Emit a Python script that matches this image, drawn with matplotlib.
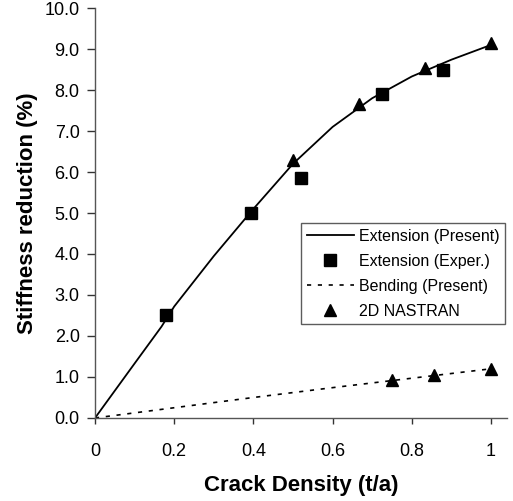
import matplotlib
matplotlib.use("Agg")
import matplotlib.pyplot as plt
from matplotlib.ticker import FixedLocator, FuncFormatter

plt.rcParams['font.family'] = ['Liberation Sans', 'DejaVu Sans']

# Extension, present model (curve)
ext_x = [0.0, 0.1, 0.168, 0.2, 0.3, 0.4, 0.5, 0.6, 0.7, 0.8, 0.9, 1.0]
ext_y = [0.0, 1.33, 2.23, 2.72, 3.95, 5.1, 6.2, 7.1, 7.8, 8.33, 8.74, 9.1]

# Extension, experimental
exp_x = [0.18, 0.395, 0.52, 0.725, 0.88]
exp_y = [2.5, 5.0, 5.85, 7.9, 8.5]

# Bending, present model (curve)
bend_x = [0.0, 0.2, 0.4, 0.6, 0.8, 1.0]
bend_y = [0.0, 0.25, 0.5, 0.74, 0.97, 1.2]

# 2D NASTRAN results
nas_x = [0.5, 0.667, 0.833, 1.0, 0.75, 0.857, 1.0]
nas_y = [6.3, 7.67, 8.53, 9.15, 0.92, 1.05, 1.2]

x_ticks = [0, 0.2, 0.4, 0.6, 0.8, 1.0]
y_ticks = [0, 1, 2, 3, 4, 5, 6, 7, 8, 9, 10]

fig = plt.figure(figsize=(5.13, 5.01), dpi=100)
ax = fig.add_axes([0.1852, 0.1657, 0.8028, 0.8183])

ax.plot(ext_x, ext_y, color='black', lw=1.3, label='Extension (Present)')
ax.plot(exp_x, exp_y, ls='none', marker='s', ms=8, color='black', label='Extension (Exper.)')
ax.plot(bend_x, bend_y, color='black', lw=1.2, ls=(0, (2.5, 4)), label='Bending (Present)')
ax.plot(nas_x, nas_y, ls='none', marker='^', ms=8.5, color='black', label='2D NASTRAN')

ax.set_xlim(0, 1.04)
ax.set_ylim(0, 10)
ax.xaxis.set_major_locator(FixedLocator(x_ticks))
ax.yaxis.set_major_locator(FixedLocator(y_ticks))
ax.xaxis.set_major_formatter(FuncFormatter(lambda v, p: '0' if v == 0 else ('1' if v == 1 else f'{v:.1f}')))
ax.yaxis.set_major_formatter(FuncFormatter(lambda v, p: f'{v:.1f}'))

for s in ['top', 'right']:
    ax.spines[s].set_visible(False)
for s in ['left', 'bottom']:
    ax.spines[s].set_color('#555555')
    ax.spines[s].set_linewidth(1.0)
ax.tick_params(direction='out', width=1, color='#333333', labelsize=13)
ax.tick_params(axis='y', length=6, pad=5)
ax.tick_params(axis='x', length=4, pad=14)

ax.set_xlabel('Crack Density (t/a)', fontsize=16, fontweight='bold', labelpad=11)
ax.set_ylabel('Stiffness reduction (%)', fontsize=16, fontweight='bold', labelpad=5)

leg = ax.legend(loc='upper left', bbox_to_anchor=(0.5, 0.475), fontsize=11.5,
                frameon=True, fancybox=False, edgecolor='#333333', handlelength=3.0,
                borderpad=0.35, labelspacing=0.62, handletextpad=0.3, borderaxespad=0)
leg.get_frame().set_linewidth(1.0)

fig.savefig('out.png', dpi=100)
